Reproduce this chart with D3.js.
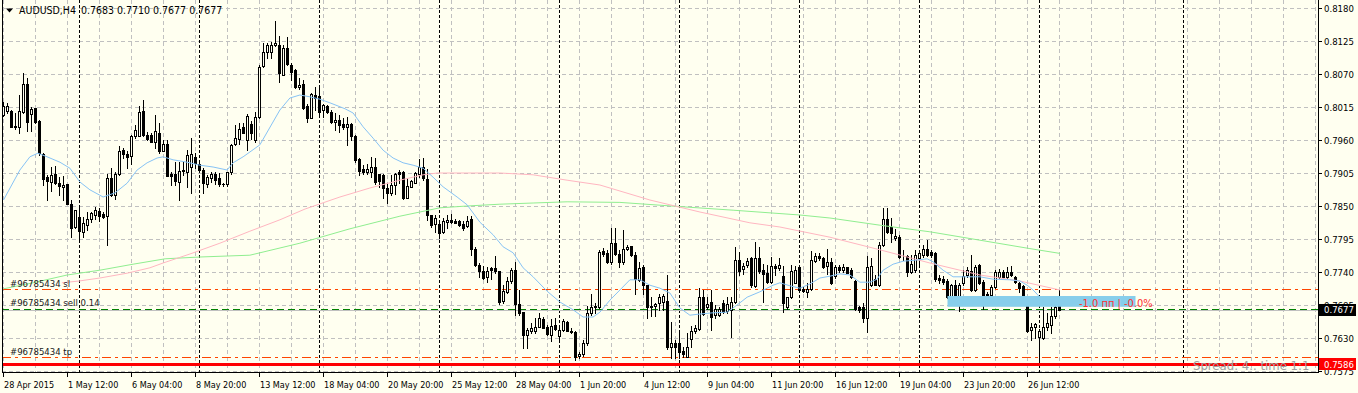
<!DOCTYPE html>
<html><head><meta charset="utf-8">
<script src="https://cdn.jsdelivr.net/npm/d3@7"></script>
<style>html,body{margin:0;padding:0;background:#fffff0;}svg{display:block;}</style>
</head><body>
<svg id="chart" width="1358" height="393"></svg>
<script>
// ---- DATA (AUDUSD H4, bar index 0 = 28 Apr 2015 20:00) ----
const opens=[0.8002,0.8008,0.8008,0.7984,0.7982,0.8007,0.8053,0.8003,0.8013,0.7992,
0.7936,0.7898,0.7890,0.7903,0.7889,0.7882,0.7887,0.7853,0.7815,0.7832,
0.7807,0.7818,0.7828,0.7835,0.7842,0.7836,0.7834,0.7896,0.7869,0.7903,
0.7943,0.7937,0.7934,0.7966,0.7967,0.8009,0.7968,0.7968,0.7957,0.7972,
0.7942,0.7953,0.7903,0.7903,0.7890,0.7909,0.7906,0.7915,0.7931,0.7920,
0.7910,0.7886,0.7896,0.7903,0.7896,0.7887,0.7886,0.7907,0.7953,0.7962,
0.7982,0.7960,0.7987,0.7960,0.7998,0.8083,0.8107,0.8106,0.8118,0.8118,
0.8069,0.8113,0.8085,0.8077,0.8048,0.8053,0.8016,0.7996,0.8035,0.8034,
0.8010,0.8016,0.8007,0.7990,0.7993,0.7987,0.7982,0.7987,0.7967,0.7928,
0.7911,0.7906,0.7906,0.7915,0.7903,0.7902,0.7880,0.7871,0.7885,0.7907,
0.7907,0.7864,0.7882,0.7889,0.7904,0.7915,0.7895,0.7835,0.7820,0.7820,
0.7806,0.7824,0.7827,0.7825,0.7825,0.7820,0.7817,0.7829,0.7779,0.7752,
0.7742,0.7732,0.7746,0.7746,0.7741,0.7692,0.7707,0.7725,0.7743,0.7686,
0.7673,0.7635,0.7642,0.7641,0.7649,0.7662,0.7649,0.7635,0.7652,0.7634,
0.7643,0.7657,0.7642,0.7640,0.7600,0.7603,0.7621,0.7671,0.7681,0.7681,
0.7775,0.7771,0.7756,0.7789,0.7770,0.7756,0.7779,0.7783,0.7769,0.7727,
0.7749,0.7718,0.7683,0.7683,0.7688,0.7690,0.7692,0.7615,0.7622,0.7622,
0.7609,0.7599,0.7628,0.7641,0.7645,0.7698,0.7682,0.7690,0.7668,0.7668,
0.7688,0.7675,0.7677,0.7690,0.7760,0.7745,0.7752,0.7763,0.7717,0.7764,
0.7743,0.7739,0.7724,0.7750,0.7746,0.7733,0.7681,0.7698,0.7722,0.7749,
0.7711,0.7707,0.7711,0.7759,0.7766,0.7763,0.7750,0.7757,0.7733,0.7749,
0.7743,0.7748,0.7743,0.7725,0.7681,0.7682,0.7663,0.7718,0.7729,0.7718,
0.7785,0.7828,0.7815,0.7796,0.7799,0.7766,0.7767,0.7740,0.7743,0.7763,
0.7768,0.7778,0.7774,0.7771,0.7730,0.7728,0.7725,0.7698,0.7718,0.7688,
0.7721,0.7735,0.7741,0.7710,0.7752,0.7724,0.7703,0.7702,0.7715,0.7732,
0.7740,0.7731,0.7740,0.7731,0.7722,0.7717,0.7690,0.7643,0.7648,0.7631,
0.7630,0.7648,0.7652,0.7666,0.7683];
const highs=[0.8023,0.8022,0.8010,0.8005,0.8035,0.8071,0.8063,0.8015,0.8014,0.7993,
0.7939,0.7902,0.7915,0.7917,0.7899,0.7900,0.7887,0.7860,0.7844,0.7849,
0.7832,0.7840,0.7840,0.7849,0.7847,0.7840,0.7904,0.7914,0.7907,0.7950,
0.7946,0.7942,0.7968,0.7985,0.8017,0.8027,0.7974,0.7971,0.8002,0.7988,
0.7960,0.7960,0.7907,0.7924,0.7924,0.7924,0.7944,0.7963,0.7938,0.7927,
0.7913,0.7902,0.7907,0.7907,0.7905,0.7889,0.7907,0.7954,0.7985,0.7988,
0.7988,0.8004,0.7992,0.8006,0.8085,0.8121,0.8121,0.8124,0.8158,0.8133,
0.8118,0.8132,0.8088,0.8078,0.8063,0.8060,0.8020,0.8039,0.8048,0.8047,
0.8020,0.8018,0.8010,0.8005,0.8002,0.7996,0.7998,0.7988,0.7968,0.7930,
0.7918,0.7920,0.7932,0.7930,0.7904,0.7904,0.7888,0.7902,0.7905,0.7910,
0.7909,0.7896,0.7893,0.7907,0.7928,0.7930,0.7912,0.7835,0.7835,0.7821,
0.7830,0.7835,0.7837,0.7829,0.7827,0.7825,0.7833,0.7833,0.7782,0.7755,
0.7750,0.7748,0.7749,0.7767,0.7742,0.7718,0.7732,0.7746,0.7757,0.7710,
0.7674,0.7646,0.7655,0.7663,0.7672,0.7665,0.7652,0.7661,0.7663,0.7649,
0.7661,0.7659,0.7646,0.7642,0.7607,0.7627,0.7683,0.7703,0.7688,0.7777,
0.7780,0.7777,0.7814,0.7813,0.7777,0.7810,0.7785,0.7784,0.7773,0.7757,
0.7752,0.7719,0.7699,0.7688,0.7703,0.7704,0.7735,0.7657,0.7627,0.7640,
0.7615,0.7638,0.7650,0.7652,0.7713,0.7710,0.7699,0.7710,0.7685,0.7682,
0.7693,0.7699,0.7699,0.7782,0.7774,0.7755,0.7763,0.7765,0.7790,0.7782,
0.7754,0.7752,0.7765,0.7754,0.7763,0.7750,0.7699,0.7752,0.7750,0.7750,
0.7715,0.7721,0.7775,0.7772,0.7771,0.7765,0.7778,0.7763,0.7752,0.7752,
0.7753,0.7749,0.7747,0.7727,0.7684,0.7688,0.7767,0.7763,0.7735,0.7790,
0.7846,0.7846,0.7830,0.7811,0.7802,0.7777,0.7768,0.7768,0.7777,0.7775,
0.7785,0.7793,0.7777,0.7774,0.7735,0.7733,0.7728,0.7720,0.7727,0.7721,
0.7743,0.7749,0.7768,0.7752,0.7753,0.7727,0.7707,0.7718,0.7743,0.7745,
0.7743,0.7748,0.7750,0.7733,0.7724,0.7718,0.7693,0.7655,0.7655,0.7645,
0.7682,0.7671,0.7682,0.7685,0.7710];
const lows=[0.8000,0.8005,0.7982,0.7979,0.7972,0.8005,0.7975,0.7975,0.7989,0.7935,
0.7885,0.7860,0.7875,0.7887,0.7868,0.7860,0.7853,0.7799,0.7814,0.7795,
0.7799,0.7810,0.7824,0.7828,0.7825,0.7830,0.7785,0.7866,0.7861,0.7902,
0.7930,0.7914,0.7920,0.7963,0.7966,0.7967,0.7960,0.7957,0.7946,0.7939,
0.7941,0.7900,0.7885,0.7885,0.7860,0.7902,0.7882,0.7871,0.7913,0.7909,
0.7871,0.7882,0.7890,0.7887,0.7883,0.7884,0.7883,0.7904,0.7951,0.7954,
0.7972,0.7943,0.7961,0.7957,0.7996,0.8082,0.8096,0.8096,0.8117,0.8057,
0.8068,0.8085,0.8060,0.8046,0.8045,0.8012,0.7990,0.7996,0.8010,0.8003,
0.7999,0.8005,0.7989,0.7977,0.7974,0.7979,0.7952,0.7960,0.7924,0.7902,
0.7904,0.7903,0.7899,0.7887,0.7882,0.7864,0.7855,0.7868,0.7870,0.7888,
0.7862,0.7863,0.7881,0.7888,0.7899,0.7893,0.7827,0.7815,0.7807,0.7796,
0.7805,0.7813,0.7822,0.7821,0.7817,0.7810,0.7815,0.7768,0.7750,0.7732,
0.7729,0.7724,0.7729,0.7739,0.7687,0.7688,0.7705,0.7721,0.7668,0.7668,
0.7614,0.7614,0.7639,0.7638,0.7648,0.7646,0.7635,0.7625,0.7643,0.7624,
0.7641,0.7641,0.7639,0.7593,0.7596,0.7600,0.7619,0.7668,0.7672,0.7680,
0.7767,0.7755,0.7754,0.7768,0.7749,0.7754,0.7777,0.7766,0.7704,0.7725,
0.7703,0.7663,0.7666,0.7666,0.7677,0.7677,0.7612,0.7596,0.7596,0.7596,
0.7599,0.7598,0.7615,0.7638,0.7643,0.7668,0.7679,0.7643,0.7663,0.7667,
0.7672,0.7671,0.7632,0.7689,0.7735,0.7737,0.7748,0.7715,0.7715,0.7738,
0.7690,0.7721,0.7722,0.7735,0.7743,0.7674,0.7678,0.7697,0.7721,0.7708,
0.7707,0.7699,0.7710,0.7757,0.7760,0.7747,0.7737,0.7720,0.7730,0.7740,
0.7740,0.7738,0.7730,0.7677,0.7673,0.7657,0.7640,0.7717,0.7718,0.7717,
0.7784,0.7805,0.7790,0.7793,0.7763,0.7760,0.7733,0.7739,0.7740,0.7753,
0.7765,0.7766,0.7765,0.7725,0.7722,0.7720,0.7697,0.7697,0.7688,0.7675,
0.7718,0.7732,0.7709,0.7708,0.7720,0.7679,0.7696,0.7692,0.7714,0.7730,
0.7730,0.7730,0.7733,0.7722,0.7707,0.7689,0.7640,0.7627,0.7630,0.7582,
0.7628,0.7643,0.7638,0.7663,0.7677];
const closes=[0.8017,0.8017,0.7982,0.7982,0.8008,0.8053,0.7990,0.8012,0.7990,0.7938,
0.7895,0.7892,0.7902,0.7889,0.7884,0.7885,0.7854,0.7813,0.7843,0.7808,
0.7821,0.7828,0.7838,0.7843,0.7834,0.7832,0.7896,0.7868,0.7903,0.7942,
0.7937,0.7932,0.7966,0.7976,0.8007,0.7968,0.7962,0.7957,0.7975,0.7942,
0.7953,0.7900,0.7900,0.7892,0.7908,0.7910,0.7935,0.7936,0.7921,0.7910,
0.7888,0.7898,0.7904,0.7894,0.7886,0.7886,0.7907,0.7952,0.7963,0.7979,
0.7972,0.8000,0.7972,0.7998,0.8082,0.8107,0.8119,0.8118,0.8121,0.8071,
0.8113,0.8086,0.8074,0.8048,0.8052,0.8013,0.7996,0.8037,0.8030,0.8006,
0.8018,0.8007,0.7990,0.7993,0.7985,0.7982,0.7987,0.7966,0.7926,0.7909,
0.7907,0.7912,0.7915,0.7890,0.7892,0.7880,0.7871,0.7885,0.7904,0.7903,
0.7863,0.7883,0.7892,0.7905,0.7915,0.7897,0.7835,0.7818,0.7830,0.7805,
0.7825,0.7826,0.7823,0.7822,0.7818,0.7814,0.7825,0.7779,0.7752,0.7741,
0.7730,0.7742,0.7743,0.7742,0.7690,0.7708,0.7725,0.7743,0.7686,0.7672,
0.7635,0.7643,0.7646,0.7649,0.7663,0.7647,0.7637,0.7650,0.7645,0.7643,
0.7659,0.7642,0.7640,0.7599,0.7604,0.7621,0.7671,0.7682,0.7683,0.7774,
0.7770,0.7756,0.7788,0.7770,0.7756,0.7779,0.7782,0.7768,0.7729,0.7746,
0.7718,0.7681,0.7682,0.7687,0.7699,0.7700,0.7615,0.7621,0.7615,0.7606,
0.7604,0.7615,0.7642,0.7647,0.7698,0.7670,0.7686,0.7665,0.7678,0.7678,
0.7674,0.7687,0.7690,0.7760,0.7741,0.7750,0.7758,0.7718,0.7763,0.7741,
0.7737,0.7724,0.7750,0.7747,0.7752,0.7688,0.7698,0.7741,0.7743,0.7710,
0.7708,0.7711,0.7760,0.7767,0.7763,0.7749,0.7757,0.7722,0.7749,0.7743,
0.7749,0.7739,0.7731,0.7679,0.7677,0.7664,0.7748,0.7750,0.7719,0.7785,
0.7828,0.7807,0.7805,0.7800,0.7765,0.7767,0.7740,0.7753,0.7768,0.7771,
0.7778,0.7768,0.7768,0.7728,0.7726,0.7724,0.7698,0.7718,0.7698,0.7718,
0.7733,0.7743,0.7710,0.7748,0.7721,0.7685,0.7699,0.7715,0.7740,0.7740,
0.7731,0.7740,0.7735,0.7724,0.7713,0.7690,0.7642,0.7648,0.7653,0.7642,
0.7649,0.7655,0.7666,0.7682,0.7677];

const timeLabels=["28 Apr 2015","1 May 12:00","6 May 04:00","8 May 20:00","13 May 12:00","18 May 04:00",
"20 May 20:00","25 May 12:00","28 May 04:00","1 Jun 20:00","4 Jun 12:00","9 Jun 04:00",
"11 Jun 20:00","16 Jun 12:00","19 Jun 04:00","23 Jun 20:00","26 Jun 12:00"];
const labelEvery=16;           // bars between time labels
const weekStarts=[19,49,79,109,139,169,199,229,259,295];
const priceTicks=[0.8180,0.8125,0.8070,0.8015,0.7960,0.7905,0.7850,0.7795,0.7740,0.7685,0.7630,0.7575];

// moving averages: [bar, price]
const maFast=[[0,0.7860],[4.1,0.7910],[6.6,0.7932],[8.6,0.7938],[10.9,0.7932],[14.1,0.7923],[16.6,0.7913],[19.1,0.7890],[21.6,0.7877],[24.9,0.7865],[27.9,0.7872],[30.9,0.7888],[33.4,0.7910],[35.9,0.7922],[38.4,0.7930],[39.9,0.7932],[42.4,0.7927],[45.9,0.7923],[49.1,0.7918],[52.4,0.7915],[55.9,0.7910],[57.4,0.7922],[59.9,0.7932],[61.6,0.7940],[64.1,0.7952],[69.1,0.8010],[71.6,0.8030],[74.1,0.8035],[76.6,0.8032],[79.1,0.8028],[81.6,0.8022],[85.4,0.8012],[87.4,0.8005],[89.9,0.7982],[92.4,0.7963],[94.9,0.7943],[97.4,0.7930],[99.9,0.7922],[102.4,0.7918],[104.9,0.7913],[107.4,0.7898],[109.9,0.7882],[113.4,0.7865],[115.9,0.7852],[119.1,0.7823],[122.4,0.7802],[124.9,0.7782],[127.4,0.7772],[129.9,0.7747],[132.4,0.7732],[135.9,0.7708],[139.1,0.7690],[142.4,0.7677],[144.9,0.7665],[147.4,0.7665],[149.1,0.7673],[151.6,0.7693],[154.1,0.7710],[156.6,0.7727],[159.1,0.7727],[161.6,0.7718],[164.1,0.7713],[166.6,0.7705],[169.1,0.7680],[171.6,0.7668],[174.1,0.7670],[177.4,0.7672],[180.9,0.7673],[183.4,0.7685],[185.9,0.7698],[189.1,0.7707],[192.4,0.7718],[194.1,0.7722],[196.6,0.7717],[199.1,0.7713],[201.6,0.7720],[204.1,0.7730],[206.6,0.7733],[209.1,0.7737],[211.6,0.7735],[214.1,0.7723],[216.6,0.7723],[218.4,0.7728],[219.9,0.7743],[222.4,0.7753],[224.9,0.7758],[228.4,0.7760],[230.9,0.7762],[232.4,0.7757],[234.9,0.7743],[237.4,0.7732],[240.9,0.7732],[244.1,0.7732],[247.4,0.7728],[251.6,0.7727],[254.1,0.7725],[255.9,0.7718],[257.4,0.7710],[259.1,0.7698],[260.4,0.7690],[261.6,0.7688],[264,0.7685]];
const maMid=[[14.6,0.7722],[18.9,0.7725],[24.1,0.7730],[30.9,0.7738],[36.6,0.7747],[39.9,0.7755],[46.6,0.7770],[54.1,0.7788],[61.6,0.7808],[69.1,0.7827],[75.4,0.7845],[84.1,0.7865],[91.6,0.7880],[99.1,0.7893],[104.9,0.7902],[108.4,0.7905],[115.9,0.7905],[124.1,0.7905],[132.4,0.7902],[140.9,0.7893],[149.1,0.7885],[161.6,0.7860],[174.1,0.7840],[186.6,0.7822],[194.1,0.7815],[206.6,0.7798],[219.1,0.7777],[231.6,0.7755],[244.1,0.7735],[254.1,0.7725],[264.1,0.7710]];
const maSlow=[[0,0.7712],[7.4,0.7722],[15.9,0.7735],[24.1,0.7743],[32.4,0.7753],[40.4,0.7762],[49.1,0.7765],[61.6,0.7768],[74.1,0.7788],[86.6,0.7812],[99.1,0.7833],[104.1,0.7840],[109.1,0.7847],[115.9,0.7850],[124.1,0.7853],[132.4,0.7855],[140.9,0.7857],[154.1,0.7856],[169.1,0.7849],[182.4,0.7843],[199.1,0.7835],[206.6,0.7830],[219.1,0.7818],[231.6,0.7807],[244.1,0.7793],[256.6,0.7779],[264.1,0.7771]];

const orderId="#96785434", orderLots="0.14";
const slPrice=0.7711, tpPrice=0.7598, entryPrice=0.7679, bidPrice=0.7677, redLevel=0.7586;
const boxBars=[236,283], boxPrices=[0.7682,0.7700];
const title="AUDUSD,H4", lastOHLC=[0.7683,0.7710,0.7677,0.7677];
const profitText="-1.0 пп | -0.0%", spreadText="Spread: 4.. time 1:1";

// ---- DRAW ----
const W=1358,H=393, L=2, R=1318, T=0, B=372;
const BG="#fffff0";
const svg=d3.select("#chart");
const x=d3.scaleLinear().domain([0,328.375]).range([3.5,1317]);
const y=d3.scaleLinear().domain([0.7575,0.8180]).range([371,8]);
const px=v=>Math.floor(x(v))+0.5;
const py=v=>Math.round(y(v))+0.5;
const font='"DejaVu Sans Condensed","DejaVu Sans",sans-serif';

svg.append("rect").attr("width",W).attr("height",H).attr("fill",BG);
const defs=svg.append("defs");
defs.append("clipPath").attr("id","plot").append("rect").attr("x",L+1).attr("y",T).attr("width",R-L-1).attr("height",B-T);
const plot=svg.append("g").attr("clip-path","url(#plot)");

// grid
plot.append("g").selectAll("line").data(priceTicks).join("line")
  .attr("x1",L).attr("x2",R).attr("y1",d=>py(d)).attr("y2",d=>py(d))
  .attr("stroke","#c0c0c0").attr("stroke-dasharray","4,3");
plot.append("g").selectAll("line").data(d3.range(0,329,8)).join("line")
  .attr("x1",d=>px(d)).attr("x2",d=>px(d)).attr("y1",T).attr("y2",B)
  .attr("stroke","#c0c0c0").attr("stroke-dasharray","4,3");
// week separators
plot.append("g").selectAll("line").data(weekStarts).join("line")
  .attr("x1",d=>px(d)).attr("x2",d=>px(d)).attr("y1",T).attr("y2",B)
  .attr("stroke","#000").attr("stroke-dasharray","3,2");

// order lines
const hline=(p,c,dash,w)=>plot.append("line").attr("x1",L).attr("x2",R)
  .attr("y1",w>1?y(p):py(p)).attr("y2",w>1?y(p):py(p)).attr("stroke",c).attr("stroke-width",w||1)
  .attr("stroke-dasharray",dash||null).attr("shape-rendering","crispEdges");
hline(bidPrice,"#c0c0c0");
hline(entryPrice,"#008000","7,4");
hline(slPrice,"#ff4500","9,4,3,4");
hline(tpPrice,"#ff4500","9,4,3,4");

// candles
const idx=d3.range(opens.length);
const cg=plot.append("g");
cg.selectAll("line").data(idx).join("line")
  .attr("x1",i=>px(i)).attr("x2",i=>px(i))
  .attr("y1",i=>Math.round(y(highs[i]))).attr("y2",i=>Math.round(y(lows[i]))+1)
  .attr("stroke","#000");
cg.selectAll("rect").data(idx).join("rect")
  .each(function(i){
    const o=opens[i],c=closes[i];
    const top=Math.round(y(Math.max(o,c))), bot=Math.round(y(Math.min(o,c)));
    const col=Math.floor(x(i));
    const s=d3.select(this);
    if(c>o){ s.attr("x",col-0.5).attr("y",top+0.5).attr("width",2).attr("height",Math.max(0,bot-top))
      .attr("fill",BG).attr("stroke","#000"); }
    else { s.attr("x",col-1).attr("y",top).attr("width",3).attr("height",Math.max(1,bot-top+1)).attr("fill","#000"); }
  });

// moving averages
const ln=d3.line().x(d=>x(d[0])).y(d=>y(d[1]));
plot.append("path").datum(maSlow).attr("d",ln).attr("fill","none").attr("stroke","#90ee90");
plot.append("path").datum(maMid).attr("d",ln).attr("fill","none").attr("stroke","#ffb6c1");
plot.append("path").datum(maFast).attr("d",ln).attr("fill","none").attr("stroke","#87c3f5");

// position box + red level
plot.append("rect").attr("x",x(boxBars[0])).attr("width",x(boxBars[1])-x(boxBars[0]))
  .attr("y",y(boxPrices[1])).attr("height",y(boxPrices[0])-y(boxPrices[1])).attr("fill","#87ceeb");
hline(redLevel,"#ff0000",null,3);

// texts in plot
plot.append("text").attr("x",1079).attr("y",y(bidPrice)-3).attr("fill","#ff3030")
  .attr("font-family",font).attr("font-size",11).text(profitText);
plot.append("text").attr("x",1193).attr("y",370).attr("fill","#a0a0a0")
  .attr("font-family",font).attr("font-size",13).text(spreadText);
const lbl=(t,p)=>plot.append("text").attr("x",10).attr("y",y(p)-2.5).attr("fill","#202020")
  .attr("font-family",font).attr("font-size",9.5).text(t);
lbl(orderId+" sl",slPrice);
lbl(orderId+" sell "+orderLots,entryPrice);
lbl(orderId+" tp",tpPrice);

// title
svg.append("path").attr("d","M6,8.5L13,8.5L9.5,12.5Z").attr("fill","#000");
svg.append("text").attr("x",19).attr("y",14).attr("font-family",font).attr("font-size",10.5)
  .attr("fill","#000").text(title);
svg.append("text").attr("x",81).attr("y",14).attr("font-family",font).attr("font-size",10.5)
  .attr("fill","#000").text(lastOHLC.map(v=>v.toFixed(4)).join(" "));

// frame
svg.append("line").attr("x1",L+0.5).attr("x2",L+0.5).attr("y1",0).attr("y2",B+1).attr("stroke","#000");
svg.append("line").attr("x1",R+0.5).attr("x2",R+0.5).attr("y1",0).attr("y2",B+1).attr("stroke","#000");
svg.append("line").attr("x1",L).attr("x2",R+1).attr("y1",B+0.5).attr("y2",B+0.5).attr("stroke","#000");

// right axis
const ra=svg.append("g");
ra.selectAll("line").data(priceTicks).join("line").attr("x1",R+1).attr("x2",R+4)
  .attr("y1",d=>py(d)).attr("y2",d=>py(d)).attr("stroke","#000");
ra.selectAll("text").data(priceTicks).join("text").attr("x",1324).attr("y",d=>y(d)+3.5)
  .attr("font-family",font).attr("font-size",9.5).attr("fill","#000").text(d=>d.toFixed(4));
// price boxes
const pbox=(p,c)=>{const g=svg.append("g");
  g.append("rect").attr("x",R+1).attr("y",Math.round(y(p))-6).attr("width",W-R-3).attr("height",12).attr("fill",c);
  g.append("text").attr("x",1324).attr("y",y(p)+3.5).attr("font-family",font).attr("font-size",9.5)
   .attr("fill","#fff").text(p.toFixed(4));};
pbox(bidPrice,"#000");
pbox(redLevel,"#ff0000");

// bottom axis
const ba=svg.append("g");
const lblBars=timeLabels.map((t,k)=>k*labelEvery);
ba.selectAll("line").data(lblBars).join("line").attr("x1",d=>px(d)).attr("x2",d=>px(d))
  .attr("y1",B+1).attr("y2",B+5).attr("stroke","#000");
ba.selectAll("text").data(timeLabels).join("text").attr("x",(d,k)=>Math.floor(x(lblBars[k]))+1)
  .attr("y",388).attr("font-family",font).attr("font-size",9).attr("fill","#000").text(d=>d);
</script>
</body></html>
